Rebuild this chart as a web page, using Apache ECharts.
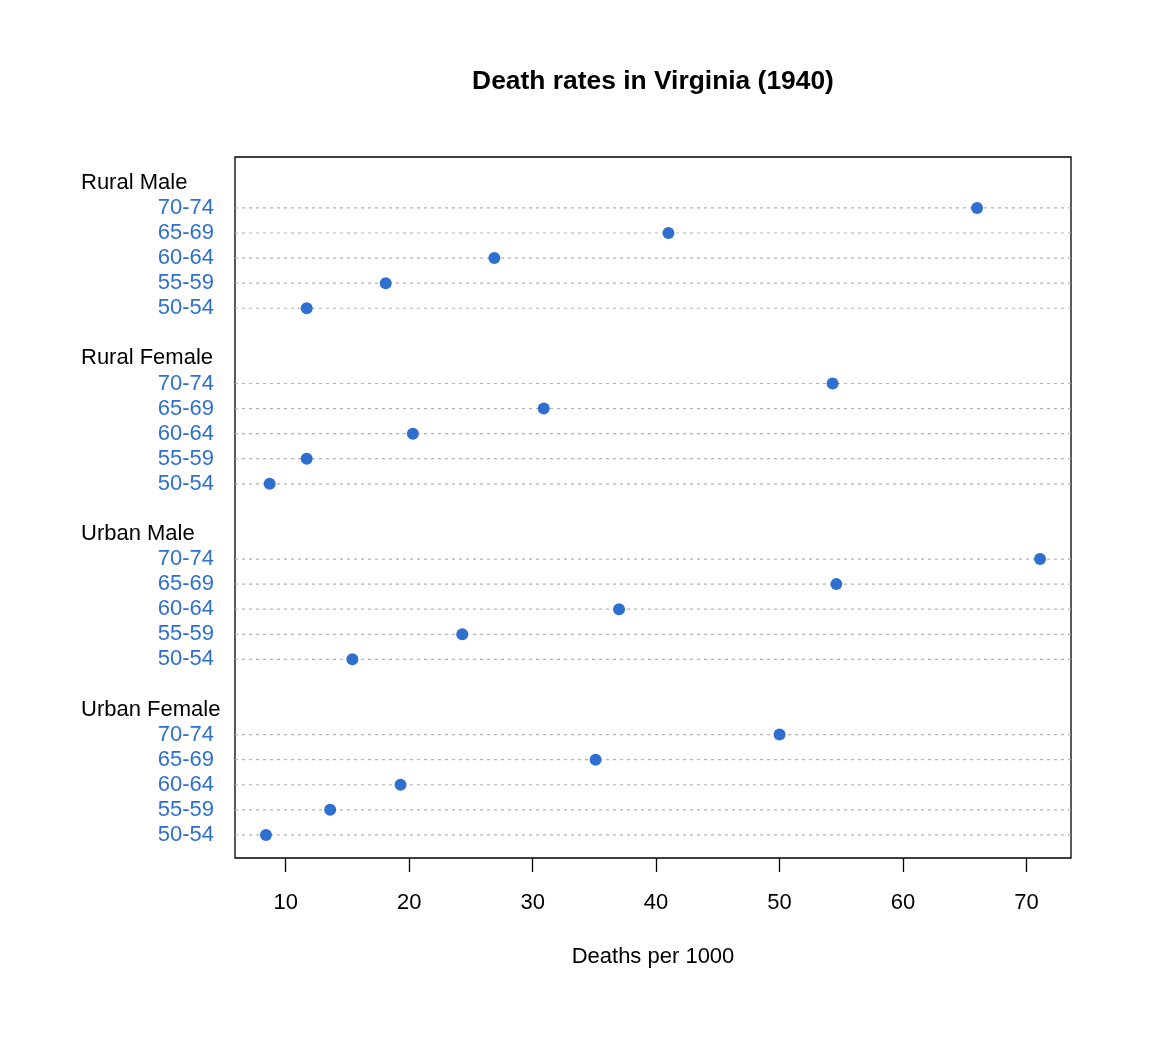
<!DOCTYPE html>
<html>
<head>
<meta charset="utf-8">
<script src="https://cdn.jsdelivr.net/npm/echarts@6/dist/echarts.min.js"></script>
<style>
  html, body { margin: 0; padding: 0; background: #fff; }
  #chart { width: 1152px; height: 1056px; }
</style>
</head>
<body>
<div id="chart"></div>
<script>
// VADeaths data, one array per group (rows 50-54 .. 70-74)
const ageGroups = ["50-54", "55-59", "60-64", "65-69", "70-74"];
const groupNames = ["Urban Female", "Urban Male", "Rural Female", "Rural Male"];
const urbanFemale = [8.4, 13.6, 19.3, 35.1, 50.0];
const urbanMale = [15.4, 24.3, 37.0, 54.6, 71.1];
const ruralFemale = [8.7, 11.7, 20.3, 30.9, 54.3];
const ruralMale = [11.7, 18.1, 26.9, 41.0, 66.0];
const xTicks = [10, 20, 30, 40, 50, 60, 70];

const groupValues = [urbanFemale, urbanMale, ruralFemale, ruralMale];
const xMin = 5.892, xMax = 73.608;
const yMin = 0.08, yMax = 28.03;
const dotColor = "#2e6fd0";

// build the row positions: each group takes 5 rows + header + blank row
let points = [];
let rowPos = [];
let ageLabelAt = {};
let headerAt = {};
groupValues.forEach(function (vals, g) {
  const base = g * 7 + 1;
  vals.forEach(function (v, i) {
    points.push([v, base + i]);
    rowPos.push(base + i);
    ageLabelAt[base + i] = ageGroups[i];
  });
  headerAt[base + 5] = groupNames[g];
});
const headerPos = Object.keys(headerAt).map(Number);

const chart = echarts.init(document.getElementById("chart"));
const option = {
  animation: false,
  backgroundColor: "#fff",
  title: {
    text: "Death rates in Virginia (1940)",
    left: 648,
    textAlign: "center",
    top: 64,
    textStyle: { fontFamily: "Liberation Sans", fontSize: 26.4, fontWeight: "bold", color: "#000" }
  },
  grid: {
    left: 235, right: 81, top: 157, bottom: 198,
    show: true, borderColor: "#000", borderWidth: 1.3, backgroundColor: "transparent"
  },
  xAxis: {
    type: "value",
    min: xMin, max: xMax,
    name: "Deaths per 1000",
    nameLocation: "middle",
    nameGap: 88,
    nameTextStyle: { fontFamily: "Liberation Sans", fontSize: 22, color: "#000" },
    axisLine: { show: false },
    splitLine: { show: false },
    axisTick: { show: true, customValues: xTicks, length: 14, lineStyle: { color: "#000", width: 1.3 } },
    axisLabel: { customValues: xTicks, margin: 34, fontFamily: "Liberation Sans", fontSize: 22, color: "#000" }
  },
  yAxis: [
    {
      type: "value", min: yMin, max: yMax,
      axisLine: { show: false }, axisTick: { show: false }, splitLine: { show: false },
      axisLabel: {
        customValues: rowPos, margin: 21, align: "right", padding: [3, 0, 0, 0],
        fontFamily: "Liberation Sans", fontSize: 22, color: dotColor,
        formatter: function (v) { return ageLabelAt[Math.round(v)] || ""; }
      }
    },
    {
      type: "value", min: yMin, max: yMax, position: "left", offset: 0,
      axisLine: { show: false }, axisTick: { show: false }, splitLine: { show: false },
      axisLabel: {
        customValues: headerPos, margin: 154, align: "left", padding: [3, 0, 0, 0],
        fontFamily: "Liberation Sans", fontSize: 22, color: "#000",
        formatter: function (v) { return headerAt[Math.round(v)] || ""; }
      }
    }
  ],
  series: [
    {
      type: "custom",
      silent: true,
      data: rowPos,
      encode: { y: 0 },
      renderItem: function (params, api) {
        const y = api.value(0);
        const p1 = api.coord([xMin, y]);
        const p2 = api.coord([xMax, y]);
        return {
          type: "line",
          shape: { x1: p1[0], y1: p1[1], x2: p2[0], y2: p2[1] },
          style: { stroke: "#b3b3b3", lineWidth: 1.2, lineDash: [3, 4] }
        };
      },
      z: 1
    },
    {
      type: "scatter",
      data: points,
      symbol: "circle",
      symbolSize: 12,
      itemStyle: { color: dotColor, opacity: 1 },
      z: 3
    }
  ]
};
chart.setOption(option);
</script>
</body>
</html>
